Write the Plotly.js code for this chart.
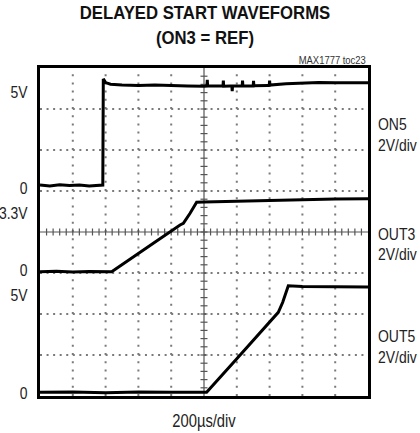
<!DOCTYPE html>
<html>
<head>
<meta charset="utf-8">
<script src="https://cdn.plot.ly/plotly-3.0.1.min.js"></script>
<style>
  html, body { margin: 0; padding: 0; background: #fff; }
  #chart { width: 420px; height: 433px; }
</style>
</head>
<body>
<div id="chart"></div>
<script>
// ---- data (time in microseconds, voltage in volts) ----
const on5T = [0,60,120,180,240,300,383,386,400,430,500,600,700,800,900,1000,1018,1020,1022,1100,1116,1118,1120,1160,1170,1172,1174,1220,1233,1235,1237,1290,1300,1302,1304,1388,1398,1400,1402,1500,1600,1700,1800,1900,2000];
const on5V = [0.03,-0.02,0.04,0.0,0.03,-0.02,0.02,5.2,5.02,4.94,4.9,4.88,4.9,4.86,4.85,4.84,4.85,5.15,4.85,4.85,4.85,5.12,4.84,4.85,4.85,4.6,4.85,4.86,4.86,5.12,4.85,4.86,4.86,5.1,4.87,4.88,4.88,5.12,4.9,4.96,5.0,5.02,5.01,5.02,5.01];

const out3T = [0,100,200,300,437,550,700,854,874,915,955,1000,1200,1400,1600,1800,2000];
const out3V = [0.0,0.02,-0.02,0.01,0.0,0.6,1.44,2.28,2.36,2.85,3.39,3.4,3.44,3.48,3.53,3.55,3.56];

const out5T = [0,200,400,600,800,1016,1200,1453,1480,1514,1600,1800,2000];
const out5V = [0.0,0.02,-0.02,0.01,0.0,0.0,1.64,3.9,4.39,5.2,5.16,5.15,5.14];

const leftTickText = ["5V","0","3.3V","0","5V","0"];
const rightLabels = ["ON5","2V/div","OUT3","2V/div","OUT5","2V/div"];

// ---- layout constants (screen divisions) ----
const voltsPerDiv = 2;
const on5Offset = 5.134, out3Offset = 3.032, out5Offset = 0.09;
const leftTickPos = [7.41, 5.07, 4.46, 3.07, 2.46, 0.07];
const rightLabelPos = [6.63, 6.12, 3.95, 3.46, 1.46, 0.95];

const toDiv = (vals, off) => vals.map(v => off + v / voltsPerDiv);

const FONT = '"Liberation Sans", Arial, sans-serif';
const lineStyle = {color: '#000', width: 3};

const traces = [
  {x: on5T, y: toDiv(on5V, on5Offset), mode: 'lines', line: lineStyle, hoverinfo: 'skip'},
  {x: out3T, y: toDiv(out3V, out3Offset), mode: 'lines', line: lineStyle, hoverinfo: 'skip'},
  {x: out5T, y: toDiv(out5V, out5Offset), mode: 'lines', line: lineStyle, hoverinfo: 'skip'}
];

// ---- graticule ----
const shapes = [];
const gridColor = '#7a7a7a';
for (let i = 1; i < 10; i++) {
  if (i === 5) continue;
  shapes.push({type: 'line', xref: 'x', yref: 'y', x0: i * 200, x1: i * 200, y0: 0, y1: 8,
    line: {color: gridColor, width: 2, dash: '2px,6.2px'}, layer: 'below'});
}
for (let j = 1; j < 8; j++) {
  if (j === 4) continue;
  shapes.push({type: 'line', xref: 'x', yref: 'y', x0: 0, x1: 2000, y0: j, y1: j,
    line: {color: gridColor, width: 2, dash: '2px,4.56px'}, layer: 'below'});
}
// centre axes
shapes.push({type: 'line', xref: 'x', yref: 'y', x0: 0, x1: 2000, y0: 4, y1: 4, line: {color: '#555', width: 1.2}, layer: 'below'});
shapes.push({type: 'line', xref: 'x', yref: 'y', x0: 1000, x1: 1000, y0: 0, y1: 8, line: {color: '#555', width: 1.2}, layer: 'below'});
for (let k = 1; k < 50; k++) {
  shapes.push({type: 'line', xref: 'x', yref: 'y', ysizemode: 'pixel', yanchor: 4,
    x0: k * 40, x1: k * 40, y0: -3.5, y1: 3.5, line: {color: '#555', width: 1.2}, layer: 'below'});
}
for (let k = 1; k < 40; k++) {
  shapes.push({type: 'line', xref: 'x', yref: 'y', xsizemode: 'pixel', xanchor: 1000,
    y0: k * 0.2, y1: k * 0.2, x0: -3.5, x1: 3.5, line: {color: '#555', width: 1.2}, layer: 'below'});
}

const annotations = rightLabels.map((t, i) => ({
  text: t, xref: 'paper', yref: 'y', x: 1, y: rightLabelPos[i], xanchor: 'left', yanchor: 'middle',
  align: 'left', xshift: 8, showarrow: false, font: {family: FONT, size: 17, color: '#222'}
}));
annotations.push({
  text: 'MAX1777 toc23', xref: 'paper', yref: 'paper', x: 1, y: 1, xanchor: 'right', yanchor: 'bottom',
  align: 'right', yshift: 0, showarrow: false, font: {family: FONT, size: 11.5, color: '#333'}
});

const layout = {
  width: 420, height: 433,
  margin: {l: 40, r: 52, t: 68, b: 37},
  paper_bgcolor: '#fff', plot_bgcolor: '#fff',
  showlegend: false,
  title: {
    text: '<b>DELAYED START WAVEFORMS<br>(ON3 = REF)</b>',
    font: {family: FONT, size: 19, color: '#111'},
    x: 0.488, xanchor: 'center', yref: 'container', y: 1, yanchor: 'top', pad: {t: 19}
  },
  xaxis: {
    range: [0, 2000], showgrid: false, zeroline: false, showticklabels: false, ticks: '',
    showline: true, linecolor: '#000', linewidth: 3, mirror: true, fixedrange: true,
    title: {text: '200µs/div', font: {family: FONT, size: 18, color: '#222'}, standoff: 17}
  },
  yaxis: {
    range: [0, 8], showgrid: false, zeroline: false, ticks: '',
    tickmode: 'array', tickvals: leftTickPos, ticktext: leftTickText,
    tickfont: {family: FONT, size: 17, color: '#222'}, ticklabelstandoff: 6,
    showline: true, linecolor: '#000', linewidth: 3, mirror: true, fixedrange: true
  },
  shapes: shapes,
  annotations: annotations
};

// Narrow (condensed) lettering like the original: compress each text run horizontally.
function condense(gd) {
  gd.querySelectorAll('svg text').forEach(t => {
    const isTitle = t.classList.contains('gtitle');
    const factor = isTitle ? 0.88 : 0.82;
    const lines = t.querySelectorAll('tspan.line');
    const targets = lines.length ? Array.from(lines) : [t];
    targets.forEach(el => {
      const len = el.getComputedTextLength();
      if (len > 0) {
        el.setAttribute('textLength', (len * factor).toFixed(2));
        el.setAttribute('lengthAdjust', 'spacingAndGlyphs');
      }
    });
  });
}

Plotly.newPlot('chart', traces, layout, {staticPlot: true, displayModeBar: false}).then(condense);
</script>
</body>
</html>
